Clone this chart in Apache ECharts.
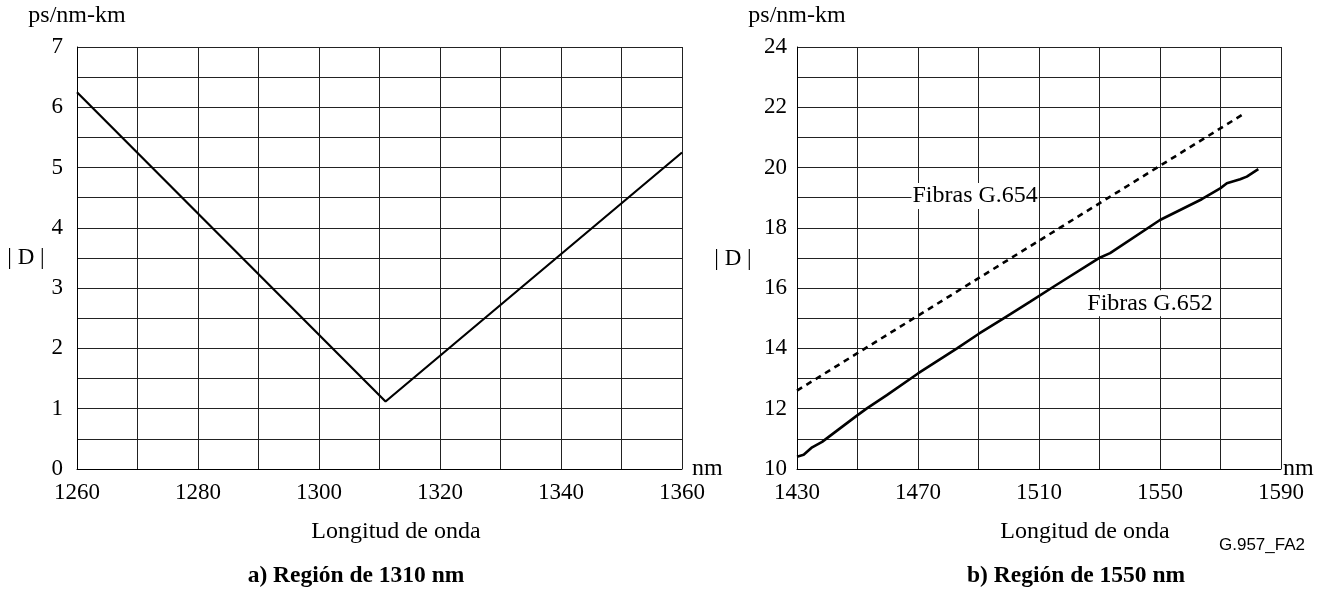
<!DOCTYPE html>
<html>
<head>
<meta charset="utf-8">
<script src="https://cdn.jsdelivr.net/npm/echarts@6/dist/echarts.min.js"></script>
<style>
  html, body { margin: 0; padding: 0; background: #fff; }
  #chart { width: 1329px; height: 589px; }
</style>
</head>
<body>
<div id="chart"></div>
<script>
// a) Región de 1310 nm
const region1310 = [
  [1260, 6.25],
  [1311, 1.12],
  [1360, 5.25]
];

// b) Región de 1550 nm
const g654 = [
  [1430, 12.6],
  [1578, 21.8]
];
const g652 = [
  [1430, 10.41], [1432.2, 10.47], [1435, 10.72], [1438.3, 10.9],
  [1449.8, 11.77], [1453.1, 12.01], [1459.7, 12.45], [1470, 13.17],
  [1482.9, 14.0], [1490, 14.48], [1498.3, 15.0], [1507.1, 15.55],
  [1515.3, 16.08], [1529.7, 16.99], [1533.5, 17.16], [1550, 18.26],
  [1563.8, 18.95], [1569.9, 19.31], [1572.1, 19.48], [1576.5, 19.61],
  [1578.7, 19.7], [1582.5, 19.95]
];

const font = 'Liberation Serif';
const chart = echarts.init(document.getElementById('chart'));

const gridLine = { show: true, lineStyle: { color: '#222', width: 1 } };
const axisLine = { show: true, lineStyle: { color: '#000', width: 1 } };
const tickLabel = { color: '#000', fontFamily: font, fontSize: 23 };
const nmName = { color: '#000', fontFamily: font, fontSize: 24, align: 'left', verticalAlign: 'middle' };
const unitName = { color: '#000', fontFamily: font, fontSize: 24 };

const option = {
  backgroundColor: '#fff',
  animation: false,
  grid: [
    { left: 77, top: 47, width: 605, height: 422 },
    { left: 797, top: 47, width: 484, height: 422 }
  ],
  xAxis: [
    {
      gridIndex: 0, type: 'value', min: 1260, max: 1360, interval: 10,
      name: 'nm', nameLocation: 'end', nameGap: 10, nameTextStyle: nmName,
      axisLine: axisLine, axisTick: { show: false }, splitLine: gridLine,
      axisLabel: Object.assign({ margin: 12, formatter: v => ((v - 1260) % 20 === 0 ? String(v) : '') }, tickLabel)
    },
    {
      gridIndex: 1, type: 'value', min: 1430, max: 1590, interval: 20,
      name: 'nm', nameLocation: 'end', nameGap: 2, nameTextStyle: nmName,
      axisLine: axisLine, axisTick: { show: false }, splitLine: gridLine,
      axisLabel: Object.assign({ margin: 12, formatter: v => ((v - 1430) % 40 === 0 ? String(v) : '') }, tickLabel)
    }
  ],
  yAxis: [
    {
      gridIndex: 0, type: 'value', min: 0, max: 7, interval: 0.5,
      name: 'ps/nm-km', nameLocation: 'end', nameGap: 19, nameTextStyle: unitName,
      axisLine: axisLine, axisTick: { show: false }, splitLine: gridLine,
      axisLabel: Object.assign({ margin: 14, padding: [6, 0, 0, 0], formatter: v => (v % 1 === 0 ? String(v) : '') }, tickLabel)
    },
    {
      gridIndex: 1, type: 'value', min: 10, max: 24, interval: 1,
      name: 'ps/nm-km', nameLocation: 'end', nameGap: 19, nameTextStyle: unitName,
      axisLine: axisLine, axisTick: { show: false }, splitLine: gridLine,
      axisLabel: Object.assign({ margin: 10, padding: [6, 0, 0, 0], formatter: v => (v % 2 === 0 ? String(v) : '') }, tickLabel)
    }
  ],
  series: [
    {
      type: 'line', xAxisIndex: 0, yAxisIndex: 0, data: region1310,
      symbol: 'none', lineStyle: { color: '#000', width: 2.2 }
    },
    {
      type: 'line', xAxisIndex: 1, yAxisIndex: 1, data: g654,
      symbol: 'none', lineStyle: { color: '#000', width: 2.6, type: [6, 5] },
      markPoint: {
        symbol: 'rect', symbolSize: 0,
        label: {
          show: true, position: 'inside', formatter: 'Fibras G.654',
          color: '#000', fontFamily: font, fontSize: 24,
          backgroundColor: '#fff', padding: [1, 1]
        },
        data: [{ coord: [1488.9, 19.06] }]
      }
    },
    {
      type: 'line', xAxisIndex: 1, yAxisIndex: 1, data: g652,
      symbol: 'none', lineStyle: { color: '#000', width: 2.6 },
      markPoint: {
        symbol: 'rect', symbolSize: 0,
        label: {
          show: true, position: 'inside', formatter: 'Fibras G.652',
          color: '#000', fontFamily: font, fontSize: 24,
          backgroundColor: '#fff', padding: [1, 1]
        },
        data: [{ coord: [1546.7, 15.5] }]
      }
    }
  ],
  graphic: [
    { type: 'text', x: 26, y: 258, style: { text: '| D |', font: '23px "Liberation Serif"', fill: '#000', align: 'center', verticalAlign: 'middle' } },
    { type: 'text', x: 733, y: 259, style: { text: '| D |', font: '23px "Liberation Serif"', fill: '#000', align: 'center', verticalAlign: 'middle' } },
    { type: 'text', x: 396, y: 532, style: { text: 'Longitud de onda', font: '24px "Liberation Serif"', fill: '#000', align: 'center', verticalAlign: 'middle' } },
    { type: 'text', x: 1085, y: 532, style: { text: 'Longitud de onda', font: '24px "Liberation Serif"', fill: '#000', align: 'center', verticalAlign: 'middle' } },
    { type: 'text', x: 356, y: 576, style: { text: 'a) Región de 1310 nm', font: 'bold 23.5px "Liberation Serif"', fill: '#000', align: 'center', verticalAlign: 'middle' } },
    { type: 'text', x: 1076, y: 576, style: { text: 'b) Región de 1550 nm', font: 'bold 23.5px "Liberation Serif"', fill: '#000', align: 'center', verticalAlign: 'middle' } },
    { type: 'text', x: 1262, y: 545, style: { text: 'G.957_FA2', font: '17px "Liberation Sans"', fill: '#000', align: 'center', verticalAlign: 'middle' } }
  ]
};

chart.setOption(option);
</script>
</body>
</html>
